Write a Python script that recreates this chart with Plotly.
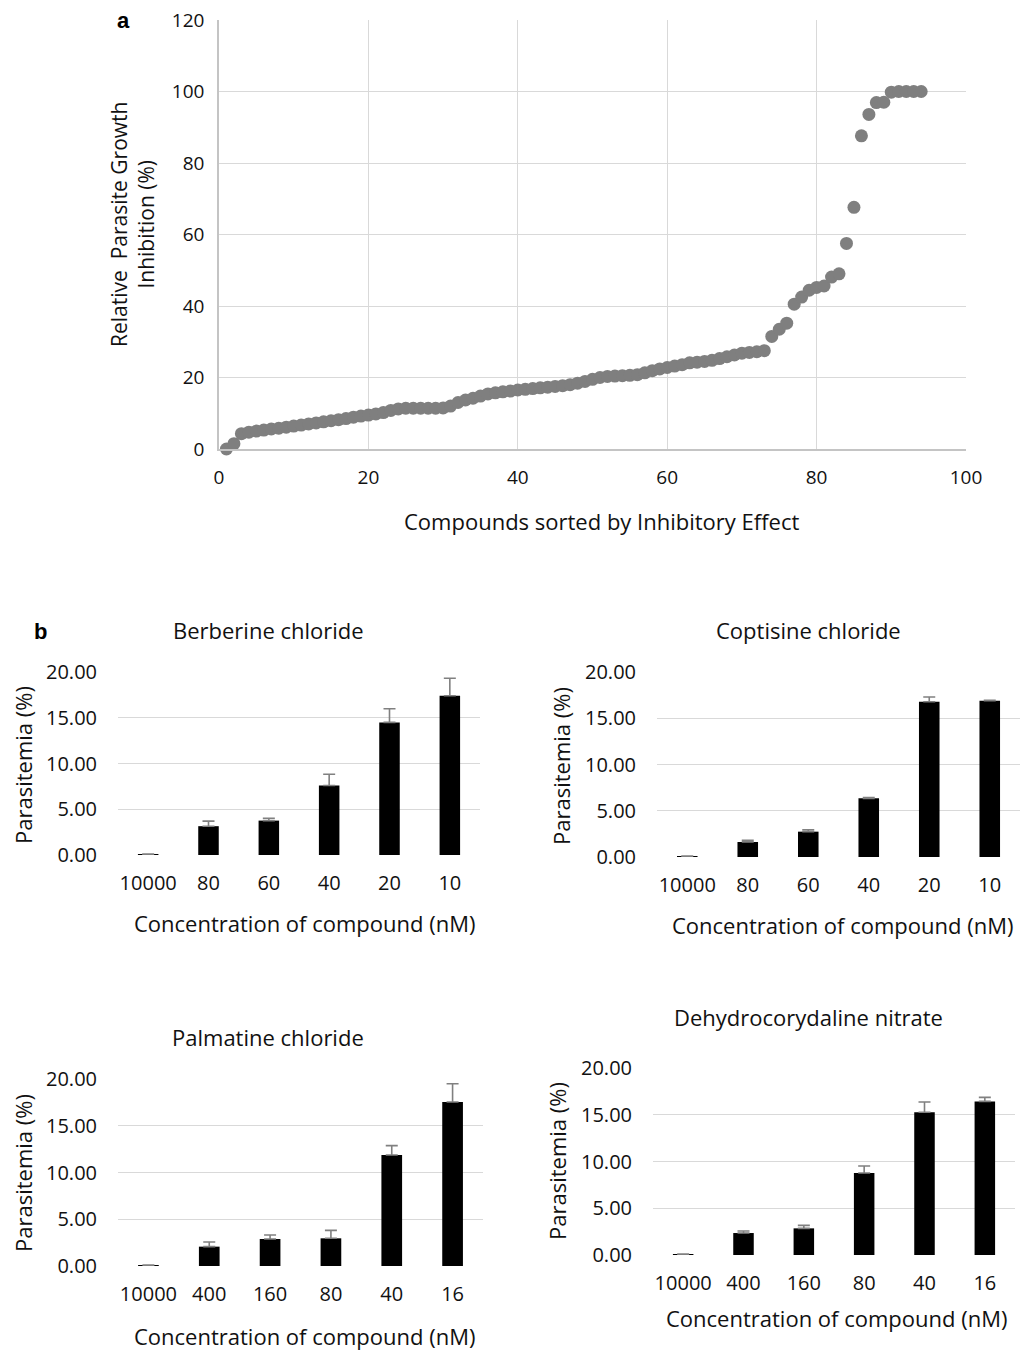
import plotly.graph_objects as go

W, H = 1024, 1350
FONT = "Open Sans"

# ---------------- Data ----------------
compound_rank = list(range(1, 95))
inhibition = [
    0.0, 1.5, 4.3, 4.7, 5.0, 5.3, 5.6, 5.8, 6.1, 6.4,
    6.7, 7.0, 7.3, 7.6, 7.9, 8.2, 8.5, 8.9, 9.2, 9.5,
    9.8, 10.2, 10.8, 11.2, 11.4, 11.4, 11.4, 11.4, 11.4, 11.5,
    12.0, 13.0, 13.7, 14.2, 14.8, 15.4, 15.7, 16.0, 16.2, 16.5,
    16.7, 16.9, 17.1, 17.3, 17.5, 17.7, 18.0, 18.4, 18.9, 19.5,
    20.0, 20.3, 20.4, 20.5, 20.6, 20.8, 21.3, 21.9, 22.4, 22.8,
    23.2, 23.6, 24.1, 24.3, 24.5, 24.8, 25.3, 25.8, 26.3, 26.8,
    27.0, 27.2, 27.5, 31.5, 33.5, 35.2, 40.5, 42.5, 44.4, 45.2,
    45.6, 48.1, 49.0, 57.5, 67.6, 87.6, 93.6, 96.9, 97.0, 99.8,
    100.0, 100.0, 100.0, 100.0,
]

conc_berberine = ["10000", "80", "60", "40", "20", "10"]
val_berberine = [0.05, 3.15, 3.76, 7.59, 14.49, 17.41]
err_berberine = [0.05, 0.55, 0.25, 1.24, 1.50, 1.90]

conc_coptisine = ["10000", "80", "60", "40", "20", "10"]
val_coptisine = [0.05, 1.62, 2.74, 6.34, 16.79, 16.90]
err_coptisine = [0.05, 0.18, 0.20, 0.10, 0.50, 0.05]

conc_palmatine = ["10000", "400", "160", "80", "40", "16"]
val_palmatine = [0.05, 2.07, 2.89, 2.96, 11.87, 17.54]
err_palmatine = [0.05, 0.50, 0.43, 0.85, 1.00, 1.96]

conc_dehydro = ["10000", "400", "160", "80", "40", "16"]
val_dehydro = [0.05, 2.35, 2.85, 8.77, 15.26, 16.43]
err_dehydro = [0.05, 0.22, 0.32, 0.75, 1.10, 0.43]

bar_panels = [
    ("Berberine chloride", conc_berberine, val_berberine, err_berberine),
    ("Coptisine chloride", conc_coptisine, val_coptisine, err_coptisine),
    ("Palmatine chloride", conc_palmatine, val_palmatine, err_palmatine),
    ("Dehydrocorydaline nitrate", conc_dehydro, val_dehydro, err_dehydro),
]


def px(x):
    return x / W


def py(y):
    return 1 - y / H


GRID = "#d9d9d9"
AXL = "#c4c4c4"
TXT = "#111111"

fig = go.Figure()

# ---------------- Panel a ----------------
fig.add_trace(go.Scatter(
    x=compound_rank, y=inhibition, mode="markers",
    marker=dict(color="#7f7f7f", size=13, line=dict(width=0)),
    xaxis="x", yaxis="y", showlegend=False, cliponaxis=False,
))

layout = dict(
    template="none",
    width=W, height=H, autosize=False,
    margin=dict(l=0, r=0, t=0, b=0, pad=0),
    paper_bgcolor="white", plot_bgcolor="white",
    font=dict(family=FONT, color=TXT),
    showlegend=False,
    xaxis=dict(domain=[px(219), px(966)], range=[0, 100], dtick=20,
               showgrid=True, gridcolor=GRID, gridwidth=1.2, zeroline=False,
               showline=True, linecolor=AXL, linewidth=1.5, ticks="",
               tickfont=dict(size=19, color=TXT), automargin=False,
               ticklabelstandoff=10, anchor="y"),
    yaxis=dict(domain=[py(449), py(20)], range=[0, 120], dtick=20,
               showgrid=True, gridcolor=GRID, gridwidth=1.2, zeroline=False,
               showline=True, linecolor=AXL, linewidth=1.5, ticks="",
               tickfont=dict(size=19, color=TXT), automargin=False,
               ticklabelstandoff=9, anchor="x"),
)


def ann(text, x, y, size, angle=0, family=None):
    f = dict(size=size, color=TXT)
    if family:
        f["family"] = family
        f["color"] = "black"
    return dict(text=text, x=px(x), y=py(y), xref="paper", yref="paper",
                xanchor="center", yanchor="middle", showarrow=False,
                textangle=angle, font=f)


annotations = [
    ann("<b>a</b>", 123, 20, 22, family="Liberation Sans"),
    ann("<b>b</b>", 40, 631, 22, family="Liberation Sans"),
    ann("Relative  Parasite Growth<br>Inhibition (%)", 133, 225, 21, angle=-90),
    ann("Compounds sorted by Inhibitory Effect", 601, 521, 22),
]

# ---------------- Panel b ----------------
# (x0, x1, y_zero, y_twenty, title_x, title_y, ytitle_x, ytitle_y, xtitle_x, xtitle_y)
geo = [
    (118, 480, 855, 672, 268, 630, 23, 765, 304, 923),
    (657, 1020, 857, 672, 808, 630, 561, 766, 842, 925),
    (118, 483, 1266, 1079, 268, 1037, 23, 1173, 304, 1336),
    (653, 1015, 1255, 1068, 808, 1017, 557, 1161, 836, 1318),
]

for i, ((title, cats, vals, errs), g) in enumerate(zip(bar_panels, geo)):
    n = i + 2
    xa, ya = f"x{n}", f"y{n}"
    x0, x1, yz, yt, tx, ty, ytx, yty, xtx, xty = g
    fig.add_trace(go.Bar(
        x=cats, y=vals, xaxis=xa, yaxis=ya, width=0.34,
        marker=dict(color="black", line=dict(width=0)),
        error_y=dict(type="data", array=errs, arrayminus=[0] * len(errs),
                     symmetric=False, color="#808080", thickness=1.6, width=6),
        showlegend=False,
    ))
    layout[f"xaxis{n}"] = dict(
        domain=[px(x0), px(x1)], type="category", anchor=ya,
        showgrid=False, zeroline=False, showline=False, ticks="",
        tickfont=dict(size=20, color=TXT), ticklabelstandoff=14,
        automargin=False,
    )
    layout[f"yaxis{n}"] = dict(
        domain=[py(yz), py(yt)], range=[0, 20], tickvals=[0, 5, 10, 15, 20],
        ticktext=["0.00", "5.00", "10.00", "15.00", "20.00"], anchor=xa,
        showgrid=True, gridcolor=GRID, gridwidth=1.3, zeroline=False,
        showline=False, ticks="", tickfont=dict(size=20, color=TXT),
        ticklabelstandoff=20, automargin=False,
    )
    annotations += [
        ann(title, tx, ty, 22),
        ann("Parasitemia (%)", ytx, yty, 22, angle=-90),
        ann("Concentration of compound (nM)", xtx, xty, 22),
    ]

layout["annotations"] = annotations
layout["bargap"] = 0.66
fig.update_layout(**layout)

fig.write_html(
    "out.html",
    config={"displayModeBar": False},
    post_script="document.body.style.margin='0px';document.body.style.overflow='hidden';",
)
